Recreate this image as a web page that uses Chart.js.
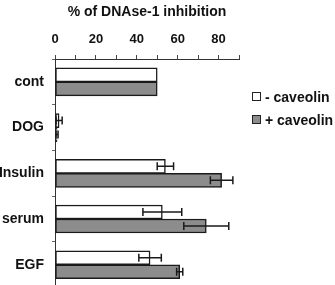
<!DOCTYPE html>
<html lang="en">
<head>
    <meta charset="UTF-8">
    <title>DNAse-1 inhibition</title>
    <script src="https://cdn.jsdelivr.net/npm/chart.js"></script>
    <style>
        body {
            margin: 0;
            width: 335px;
            height: 285px;
            overflow: hidden;
            background: #fff;
            font-family: "Liberation Sans", Arial, sans-serif;
        }
        #wrap {
            position: relative;
            width: 335px;
            height: 304px;
        }
        #legend {
            position: absolute;
            left: 252px;
            top: 89px;
            font-weight: bold;
            font-size: 14px;
            color: #111;
        }
        #legend div {
            height: 23px;
            line-height: 16px;
            white-space: nowrap;
        }
        #legend span.box {
            display: inline-block;
            width: 7px;
            height: 7px;
            border: 1px solid #222;
            margin-right: 4px;
            vertical-align: 1px;
        }
    </style>
</head>
<body>
<div id="wrap">
    <canvas id="myChart" width="335" height="304"></canvas>
    <div id="legend"></div>
</div>
<script>
// data
const categories = ['cont', 'DOG', 'Insulin', 'serum', 'EGF'];
const minusCav = [50, 2, 54, 52.5, 46.5];
const minusCavErr = [0, 1.5, 4, 9.5, 5.5];
const plusCav = [50, 1, 81.5, 74, 61];
const plusCavErr = [0, 0.5, 5.5, 11, 1.5];
const xTicks = [0, 20, 40, 60, 80];

const seriesLabels = ['- caveolin', '+ caveolin'];
const seriesColors = ['#ffffff', '#8c8c8c'];
const errors = [minusCavErr, plusCavErr];

// draws the error bars on top of the bars
const errorBars = {
    id: 'errorBars',
    afterDatasetsDraw(chart) {
        const ctx = chart.ctx;
        const xs = chart.scales.x;
        ctx.save();
        ctx.strokeStyle = '#1a1a1a';
        ctx.lineWidth = 1.5;
        chart.data.datasets.forEach((ds, i) => {
            const meta = chart.getDatasetMeta(i);
            meta.data.forEach((bar, j) => {
                const err = errors[i][j];
                if (!err) return;
                const v = ds.data[j];
                const x1 = xs.getPixelForValue(v - err);
                const x2 = xs.getPixelForValue(v + err);
                const y = bar.y;
                ctx.beginPath();
                ctx.moveTo(x1, y);
                ctx.lineTo(x2, y);
                ctx.moveTo(x1, y - 4);
                ctx.lineTo(x1, y + 4);
                ctx.moveTo(x2, y - 4);
                ctx.lineTo(x2, y + 4);
                ctx.stroke();
            });
        });
        ctx.restore();
    }
};

const ctx = document.getElementById('myChart').getContext('2d');
const myChart = new Chart(ctx, {
    type: 'bar',
    data: {
        labels: categories,
        datasets: [{
            label: seriesLabels[0],
            data: minusCav,
            backgroundColor: seriesColors[0],
            borderColor: '#1a1a1a',
            borderWidth: 1.5,
            borderSkipped: false,
            barThickness: 14
        }, {
            label: seriesLabels[1],
            data: plusCav,
            backgroundColor: seriesColors[1],
            borderColor: '#1a1a1a',
            borderWidth: 1.5,
            borderSkipped: false,
            barThickness: 14
        }]
    },
    options: {
        indexAxis: 'y',
        responsive: false,
        animation: false,
        layout: { padding: { left: 0, right: 96, top: 0, bottom: 0 } },
        plugins: {
            legend: { display: false },
            tooltip: { enabled: false }
        },
        scales: {
            x: {
                position: 'top',
                min: 0,
                max: 90,
                afterFit(scale) { scale.height = 59; },
                afterBuildTicks(scale) {
                    scale.ticks = [];
                    for (let v = 0; v <= 90; v += 10) scale.ticks.push({ value: v });
                },
                ticks: {
                    autoSkip: false,
                    maxRotation: 0,
                    padding: 8,
                    color: '#111',
                    font: { family: 'Liberation Sans', size: 13, weight: 'bold' },
                    callback: (v) => xTicks.includes(v) ? String(v) : ''
                },
                grid: {
                    drawOnChartArea: false,
                    tickLength: 4,
                    color: '#444'
                },
                border: { color: '#333', width: 1 },
                title: {
                    display: true,
                    text: '% of DNAse-1 inhibition',
                    color: '#111',
                    padding: { top: 4, bottom: 0 },
                    font: { family: 'Liberation Sans', size: 14, weight: 'bold' }
                }
            },
            y: {
                afterFit(scale) { scale.width = 55; },
                ticks: {
                    padding: 8,
                    color: '#111',
                    font: { family: 'Liberation Sans', size: 14, weight: 'bold' }
                },
                grid: {
                    drawOnChartArea: false,
                    offset: true,
                    tickLength: 3,
                    color: '#666'
                },
                border: { color: '#333', width: 1 }
            }
        }
    },
    plugins: [errorBars]
});

// legend as html text
const legendEl = document.getElementById('legend');
seriesLabels.forEach((lab, i) => {
    const row = document.createElement('div');
    const box = document.createElement('span');
    box.className = 'box';
    box.style.background = seriesColors[i];
    row.appendChild(box);
    row.appendChild(document.createTextNode(lab));
    legendEl.appendChild(row);
});
</script>
</body>
</html>
